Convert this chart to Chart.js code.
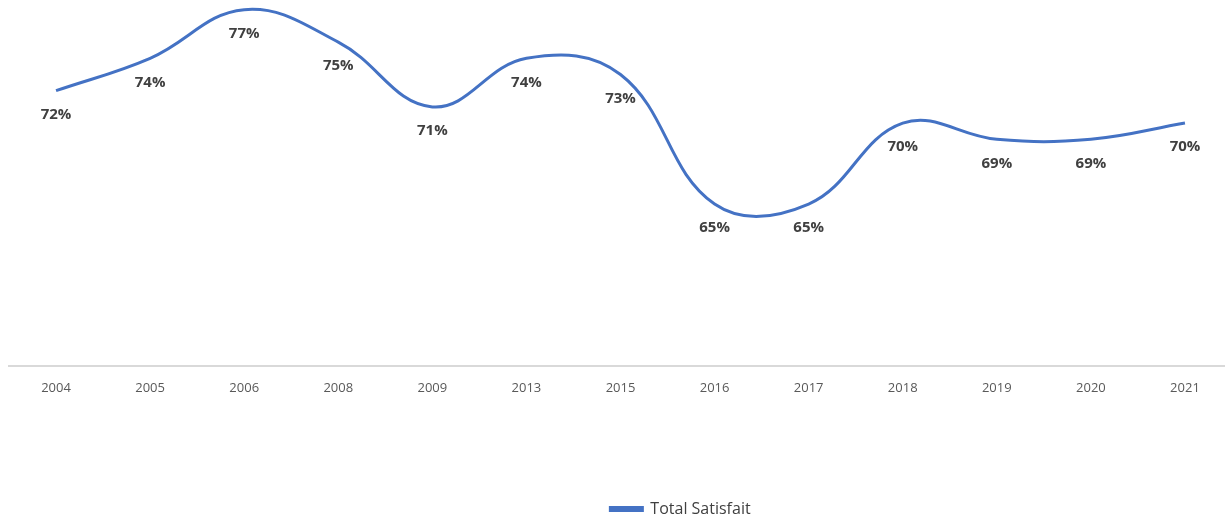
<!DOCTYPE html>
<html>
<head>
<meta charset="utf-8">
<script src="https://cdn.jsdelivr.net/npm/chart.js@4"></script>
<style>
  html,body{margin:0;padding:0;background:#fff;overflow:hidden;}
  #wrap{width:1232px;height:518px;}
</style>
</head>
<body>
<div id="wrap"><canvas id="chart"></canvas></div>
<script>
const years=['2004','2005','2006','2008','2009','2013','2015','2016','2017','2018','2019','2020','2021'];
const satisfait=[72,74,77,75,71,74,73,65,65,70,69,69,70];
const seriesName='Total Satisfait';

// labels drawn under each point, like the Excel data labels
const pointLabels={
  id:'pointLabels',
  afterDatasetsDraw(chart){
    const ctx=chart.ctx;
    const meta=chart.getDatasetMeta(0);
    ctx.save();
    ctx.font='bold 15px "Open Sans"';
    ctx.fillStyle='#404040';
    ctx.textAlign='center';
    ctx.textBaseline='middle';
    meta.data.forEach((pt,i)=>{
      ctx.fillText(satisfait[i]+'%',pt.x,pt.y+24);
    });
    ctx.restore();
  }
};

// nudge the legend to where Excel put it
const legendShift={
  id:'legendShift',
  afterLayout(chart){
    const lg=chart.legend;
    if(!lg) return;
    lg.left+=60; lg.right+=60;
    lg.top+=9; lg.bottom+=9;
  }
};

new Chart(document.getElementById('chart'),{
  type:'line',
  data:{
    labels:years,
    datasets:[{
      label:seriesName,
      data:satisfait,
      borderColor:'#4472C4',
      backgroundColor:'#4472C4',
      borderWidth:3,
      tension:0.4,
      pointRadius:0,
      clip:false
    }]
  },
  options:{
    responsive:true,
    maintainAspectRatio:false,
    animation:false,
    layout:{padding:{left:9,right:0,top:0,bottom:0}},
    plugins:{
      legend:{
        position:'bottom',
        labels:{
          boxWidth:32,
          boxHeight:3,
          padding:4,
          color:'#404040',
          font:{family:'"Open Sans"',size:16}
        }
      },
      tooltip:{enabled:false}
    },
    scales:{
      x:{
        offset:true,
        grid:{display:false,drawTicks:false},
        border:{display:true,color:'#d9d9d9',width:2},
        ticks:{color:'#595959',padding:14,font:{family:'"Open Sans"',size:13}},
        afterFit(scale){ scale.height=scale.chart.height-366-scale.chart.legend.height; }
      },
      y:{display:false,min:55,max:77.6}
    }
  },
  plugins:[pointLabels,legendShift]
});
</script>
</body>
</html>
